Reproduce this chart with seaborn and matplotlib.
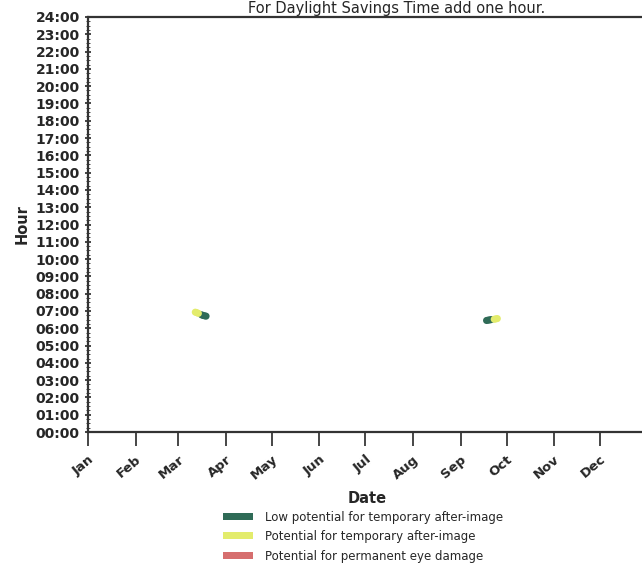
import pandas as pd
import matplotlib
matplotlib.use("Agg")
from matplotlib import pyplot as plt
import matplotlib.dates as mdates
from matplotlib.patches import Patch
import seaborn as sns

# glare occurrences: date and hour (decimal hours)
green_dates = ["2023-03-16", "2023-03-17", "2023-03-18", "2023-03-19",
               "2023-09-18", "2023-09-19", "2023-09-20", "2023-09-21"]
green_hours = [6.78, 6.74, 6.72, 6.70, 6.45, 6.47, 6.48, 6.50]
yellow_dates = ["2023-03-12", "2023-03-13", "2023-03-14",
                "2023-09-23", "2023-09-24", "2023-09-25"]
yellow_hours = [6.93, 6.90, 6.86, 6.52, 6.54, 6.56]

labels = ["Low potential for temporary after-image",
          "Potential for temporary after-image",
          "Potential for permanent eye damage"]
colors = ["#2f6b57", "#e3ec6c", "#d66e6e"]

df = pd.DataFrame({
    "date": pd.to_datetime(green_dates + yellow_dates),
    "hour": green_hours + yellow_hours,
    "level": [labels[0]] * len(green_dates) + [labels[1]] * len(yellow_dates),
})

sns.set_style("ticks")
plt.rcParams['font.family'] = ['DejaVu Sans']

fig = plt.figure(figsize=(6.42, 5.65), dpi=100)
ax = fig.add_axes([88 / 642, 133 / 565, 558 / 642, 415 / 565])
sns.scatterplot(data=df, x="date", y="hour", hue="level",
                palette={labels[0]: colors[0], labels[1]: colors[1]},
                s=26, linewidth=0, legend=False, ax=ax)

ax.set_xlim(pd.Timestamp("2023-01-01"), pd.Timestamp("2023-12-31"))
ax.set_ylim(0, 24)
ax.xaxis.set_major_locator(mdates.MonthLocator())
ax.xaxis.set_major_formatter(mdates.DateFormatter("%b"))
ax.set_yticks(range(0, 25))
ax.set_yticklabels(["%02d:00" % h for h in range(0, 25)])
ax.set_yticks([h + q / 4 for h in range(24) for q in (1, 2, 3)], minor=True)
ax.tick_params(axis="y", which="major", length=5, direction="inout", labelsize=10, width=1.2)
ax.tick_params(axis="y", which="minor", length=3, direction="inout")
ax.tick_params(axis="x", length=10, width=1.2, labelsize=9.5, pad=5)
for lab in ax.get_yticklabels():
    lab.set_fontweight("bold")
for lab in ax.get_xticklabels():
    lab.set_rotation(40)
    lab.set_ha("right")
    lab.set_rotation_mode("anchor")
    lab.set_fontweight("bold")
for sp in ax.spines.values():
    sp.set_linewidth(1.6)
    sp.set_color("#333333")

ax.set_xlabel("Date", fontsize=10.5, fontweight="bold", labelpad=6)
ax.set_ylabel("Hour", fontsize=10.5, fontweight="bold", labelpad=4)

fig.text(397 / 642, 1 - 1 / 565, "For Daylight Savings Time add one hour.",
         ha="center", va="top", fontsize=10.5)

handles = [Patch(facecolor=c, edgecolor="none") for c in colors]
fig.legend(handles, labels, loc="upper left", bbox_to_anchor=(212 / 642, 1 - 500 / 565),
           frameon=False, fontsize=8.5, handlelength=2.6, handleheight=0.55,
           labelspacing=0.55, handletextpad=1.0)

fig.savefig("out.png", dpi=100)
